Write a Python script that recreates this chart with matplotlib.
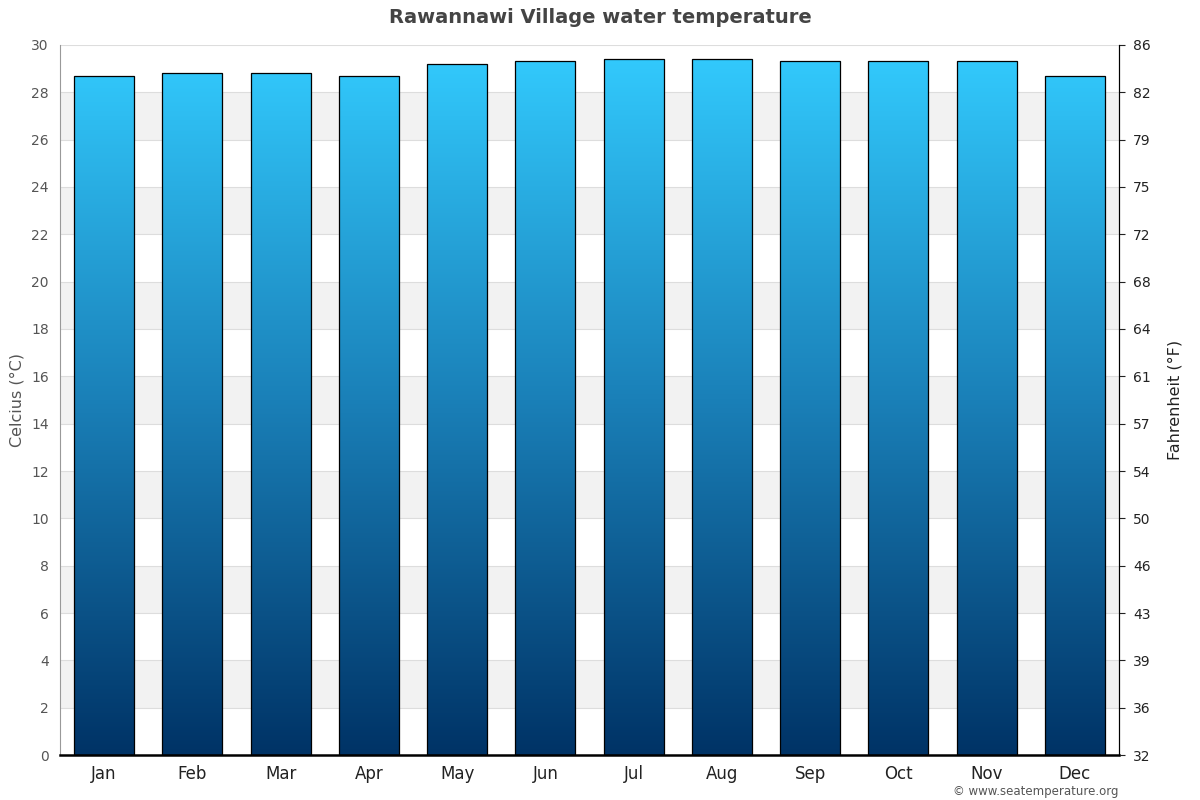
import numpy as np
import matplotlib
matplotlib.use("Agg")
import matplotlib.pyplot as plt
from matplotlib.colors import LinearSegmentedColormap
from matplotlib.patches import Rectangle

months = ["Jan", "Feb", "Mar", "Apr", "May", "Jun",
          "Jul", "Aug", "Sep", "Oct", "Nov", "Dec"]
water_temp_c = [28.7, 28.8, 28.8, 28.7, 29.2, 29.3,
                29.4, 29.4, 29.3, 29.3, 29.3, 28.7]
c_ticks = list(range(0, 31, 2))
f_labels = ["32", "36", "39", "43", "46", "50", "54", "57",
            "61", "64", "68", "72", "75", "79", "82", "86"]

fig = plt.figure(figsize=(12, 8), dpi=100)
ax = fig.add_axes([0.05, 0.056, 0.8825, 0.888])

ymax = 30
ax.set_xlim(-0.5, len(months) - 0.5)
ax.set_ylim(0, ymax)

# alternating bands
for lo in range(2, 30, 4):
    ax.axhspan(lo, lo + 2, color="#f2f2f2", zorder=0, lw=0)
for t in c_ticks[1:]:
    ax.axhline(t, color="#dddddd", lw=0.8, zorder=0.5)

cmap = LinearSegmentedColormap.from_list("wt", ["#003366", "#1a80b8", "#33ccff"])
grad = np.linspace(0, 1, 256).reshape(-1, 1)
width = 0.68
for i, v in enumerate(water_temp_c):
    x0 = i - width / 2
    im = ax.imshow(grad, cmap=cmap, origin="lower", aspect="auto",
                   extent=(x0, x0 + width, 0, ymax), zorder=2)
    rect = Rectangle((x0, 0), width, v, facecolor="none",
                     edgecolor="black", lw=0.9, zorder=3)
    ax.add_patch(rect)
    im.set_clip_path(rect)

ax.set_xticks(range(len(months)))
ax.set_xticklabels(months, fontsize=12, color="#222222")
ax.set_yticks(c_ticks)
ax.tick_params(axis="y", labelsize=10, colors="#555555", length=0, pad=8)
ax.tick_params(axis="x", length=0, pad=7)
ax.set_ylabel("Celcius (°C)", fontsize=11.5, color="#555555", labelpad=5)

ax.spines["top"].set_visible(False)
ax.spines["left"].set_color("#999999")
ax.spines["right"].set_color("black")
ax.spines["bottom"].set_color("black")
ax.spines["bottom"].set_linewidth(1.8)

ax2 = ax.twinx()
ax2.set_ylim(0, ymax)
ax2.set_yticks(c_ticks)
ax2.set_yticklabels(f_labels)
ax2.tick_params(axis="y", labelsize=10, colors="#222222", length=4, width=0.8,
                direction="out", pad=6)
ax2.set_ylabel("Fahrenheit (°F)", fontsize=11.5, color="#222222", labelpad=12)
for s in ["top", "left", "bottom"]:
    ax2.spines[s].set_visible(False)
ax2.spines["right"].set_color("black")

fig.text(0.5, 0.978, "Rawannawi Village water temperature", ha="center",
         va="center", fontsize=14, fontweight="bold", color="#444444")
fig.text(0.932, 0.003, "© www.seatemperature.org", ha="right", va="bottom",
         fontsize=8.5, color="#555555")

fig.savefig("out.png", dpi=100)
